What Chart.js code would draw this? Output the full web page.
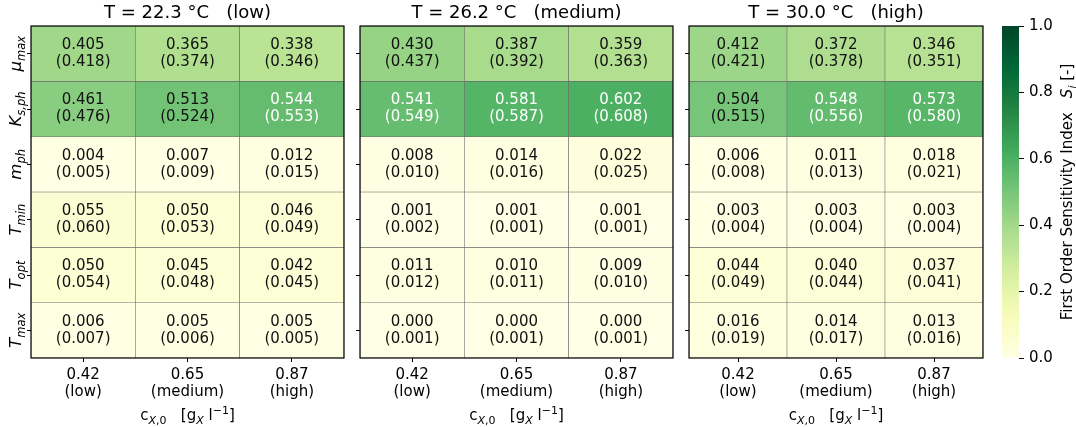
<!DOCTYPE html>
<html>
<head>
<meta charset="utf-8">
<script src="https://cdn.jsdelivr.net/npm/chart.js@4.4.1/dist/chart.umd.min.js"></script>
<style>
  html, body { margin: 0; padding: 0; background: #fff; }
  #wrap { position: relative; width: 1076px; height: 427px; overflow: hidden; }
  canvas { position: absolute; top: 0; }
</style>
</head>
<body>
<div id="wrap">
  <canvas id="p0"></canvas>
  <canvas id="p1"></canvas>
  <canvas id="p2"></canvas>
  <canvas id="cbar"></canvas>
</div>
<script>
// --- data ---
const temperatures = ["22.3", "26.2", "30.0"];
const tempLevels = ["low", "medium", "high"];
const concentrations = ["0.42", "0.65", "0.87"];
const concLevels = ["low", "medium", "high"];
const paramSymbols = ["μ", "K", "m", "T", "T", "T"];
const paramSubs = ["max", "s,ph", "ph", "min", "opt", "max"];
const colorbarTicks = [0, 0.2, 0.4, 0.6, 0.8, 1.0];

// first order index (colour) per temperature, rows = parameters, cols = concentrations
const siLow = [
  [0.405, 0.365, 0.338], [0.461, 0.513, 0.544], [0.004, 0.007, 0.012],
  [0.055, 0.050, 0.046], [0.050, 0.045, 0.042], [0.006, 0.005, 0.005]
];
const siMedium = [
  [0.430, 0.387, 0.359], [0.541, 0.581, 0.602], [0.008, 0.014, 0.022],
  [0.001, 0.001, 0.001], [0.011, 0.010, 0.009], [0.000, 0.000, 0.000]
];
const siHigh = [
  [0.412, 0.372, 0.346], [0.504, 0.548, 0.573], [0.006, 0.011, 0.018],
  [0.003, 0.003, 0.003], [0.044, 0.040, 0.037], [0.016, 0.014, 0.013]
];
// values in brackets
const stLow = [
  [0.418, 0.374, 0.346], [0.476, 0.524, 0.553], [0.005, 0.009, 0.015],
  [0.060, 0.053, 0.049], [0.054, 0.048, 0.045], [0.007, 0.006, 0.005]
];
const stMedium = [
  [0.437, 0.392, 0.363], [0.549, 0.587, 0.608], [0.010, 0.016, 0.025],
  [0.002, 0.001, 0.001], [0.012, 0.011, 0.010], [0.001, 0.001, 0.001]
];
const stHigh = [
  [0.421, 0.378, 0.351], [0.515, 0.556, 0.580], [0.008, 0.013, 0.021],
  [0.004, 0.004, 0.004], [0.049, 0.044, 0.041], [0.019, 0.017, 0.016]
];

const siAll = [siLow, siMedium, siHigh];
const stAll = [stLow, stMedium, stHigh];

// --- colour map (YlGn) ---
const ylgn = ["#ffffe5", "#f7fcb9", "#d9f0a3", "#addd8e", "#78c679",
              "#41ab5d", "#238443", "#006837", "#004529"];
function hexRgb(h) { return [1, 3, 5].map(i => parseInt(h.substr(i, 2), 16)); }
function colorFor(v) {
  const t = Math.min(Math.max(v, 0), 1) * (ylgn.length - 1);
  const i = Math.min(Math.floor(t), ylgn.length - 2);
  const f = t - i;
  const a = hexRgb(ylgn[i]), b = hexRgb(ylgn[i + 1]);
  return "rgb(" + a.map((c, k) => Math.round(c + (b[k] - c) * f)).join(",") + ")";
}

const FONT = '"DejaVu Sans", sans-serif';
const H = 427, TOP = 26, BOTTOM = 358, YW = 31;
const boxes = [{ left: 31, right: 344 }, { left: 360, right: 673 }, { left: 689, right: 983 }];

// draws a run of text pieces (with sub/superscripts) centred on cx
function drawRich(ctx, pieces, cx, baseline) {
  let w = 0;
  pieces.forEach(p => { ctx.font = p.font; p.w = ctx.measureText(p.t).width; w += p.w; });
  let x = cx - w / 2;
  ctx.textAlign = "left";
  ctx.textBaseline = "alphabetic";
  pieces.forEach(p => {
    ctx.font = p.font;
    ctx.fillText(p.t, x, baseline + (p.dy || 0));
    x += p.w;
  });
}

function crearPanel(idx) {
  const box = boxes[idx];
  const canvas = document.getElementById("p" + idx);
  const cw = box.right - box.left + YW + 6;
  canvas.width = cw;
  canvas.height = H;
  canvas.style.left = (box.left - YW) + "px";
  canvas.style.width = cw + "px";
  canvas.style.height = H + "px";

  const si = siAll[idx], st = stAll[idx];

  const textos = {
    id: "textos",
    afterDatasetsDraw(chart) {
      const { ctx, chartArea: a, scales: { x, y } } = chart;
      ctx.save();
      // cell annotations
      ctx.font = "15px " + FONT;
      ctx.textAlign = "center";
      ctx.textBaseline = "middle";
      si.forEach((row, r) => row.forEach((v, c) => {
        const px = x.getPixelForValue(c), py = y.getPixelForValue(r + 0.5);
        ctx.fillStyle = v > 0.53 ? "#ffffff" : "#111111";
        ctx.fillText(v.toFixed(3), px, py - 8.5);
        ctx.fillText("(" + st[r][c].toFixed(3) + ")", px, py + 8.5);
      }));
      // frame
      ctx.strokeStyle = "#000";
      ctx.lineWidth = 1.2;
      ctx.strokeRect(a.left, a.top, a.right - a.left, a.bottom - a.top);
      // title
      ctx.fillStyle = "#000";
      ctx.font = "18px " + FONT;
      ctx.textAlign = "center";
      ctx.textBaseline = "alphabetic";
      ctx.fillText("T = " + temperatures[idx] + " °C   (" + tempLevels[idx] + ")",
                   (a.left + a.right) / 2, 17.5);
      // x title
      const m = "15px " + FONT, s = "11px " + FONT, si2 = "italic 11px " + FONT;
      drawRich(ctx, [
        { t: "c", font: m }, { t: "X", font: si2, dy: 3.5 }, { t: ",0", font: s, dy: 3.5 },
        { t: "   [g", font: m }, { t: "X", font: si2, dy: 3.5 }, { t: " l", font: m },
        { t: "−1", font: s, dy: -6 }, { t: "]", font: m }
      ], (a.left + a.right) / 2, 420);
      // y tick labels (first panel only)
      if (idx === 0) {
        paramSymbols.forEach((sym, r) => {
          const py = y.getPixelForValue(r + 0.5);
          ctx.save();
          ctx.translate(21, py);
          ctx.rotate(-Math.PI / 2);
          drawRich(ctx, [
            { t: sym, font: "italic 16.5px " + FONT },
            { t: paramSubs[r], font: "italic 11.5px " + FONT, dy: 4 }
          ], 0, 0);
          ctx.restore();
        });
      }
      ctx.restore();
    }
  };

  return new Chart(canvas.getContext("2d"), {
    type: "bar",
    data: {
      labels: concentrations.map((c, k) => [c, "(" + concLevels[k] + ")"]),
      datasets: paramSymbols.map((p, r) => ({
        data: concentrations.map(() => [r, r + 1]),
        backgroundColor: si[r].map(colorFor),
        borderColor: "#6e6e6e",
        borderWidth: 0.6,
        borderSkipped: false,
        categoryPercentage: 1,
        barPercentage: 1,
        grouped: false
      }))
    },
    options: {
      responsive: false,
      animation: false,
      events: [],
      layout: { padding: { left: 0, right: 6, top: TOP, bottom: 0 } },
      plugins: { legend: { display: false }, tooltip: { enabled: false }, title: { display: false } },
      scales: {
        x: {
          type: "category",
          offset: true,
          grid: { offset: false, drawOnChartArea: false, tickLength: 4, color: "#000" },
          border: { display: false },
          ticks: { font: { family: FONT, size: 15, lineHeight: 1.1 }, color: "#000", padding: 5, maxRotation: 0 },
          afterFit: s => { s.height = H - BOTTOM; }
        },
        y: {
          type: "linear",
          min: 0,
          max: 6,
          reverse: true,
          afterBuildTicks: s => { s.ticks = paramSymbols.map((p, k) => ({ value: k + 0.5 })); },
          grid: { drawOnChartArea: false, tickLength: 4, color: "#000" },
          border: { display: false },
          ticks: { display: false },
          afterFit: s => { s.width = YW; }
        }
      }
    },
    plugins: [textos]
  });
}

[0, 1, 2].forEach(crearPanel);

// --- colour bar ---
(function crearBarra() {
  const canvas = document.getElementById("cbar");
  const cw = 86, left = 990;
  canvas.width = cw;
  canvas.height = H;
  canvas.style.left = left + "px";
  canvas.style.width = cw + "px";
  canvas.style.height = H + "px";

  const etiqueta = {
    id: "etiqueta",
    afterDraw(chart) {
      const { ctx, chartArea: a } = chart;
      ctx.save();
      ctx.fillStyle = "#000";
      ctx.translate(82, (a.top + a.bottom) / 2);
      ctx.rotate(-Math.PI / 2);
      drawRich(ctx, [
        { t: "First Order Sensitivity Index   ", font: "15px " + FONT },
        { t: "S", font: "italic 15px " + FONT },
        { t: "i", font: "italic 11px " + FONT, dy: 3.5 },
        { t: " [-]", font: "15px " + FONT }
      ], 0, 0);
      ctx.restore();
    }
  };

  new Chart(canvas.getContext("2d"), {
    type: "bar",
    data: {
      labels: [""],
      datasets: [{
        data: [[0, 1]],
        backgroundColor: c => {
          const ch = c.chart;
          if (!ch.chartArea) return ylgn[0];
          const ys = ch.scales.y;
          const g = ch.ctx.createLinearGradient(0, ys.getPixelForValue(0), 0, ys.getPixelForValue(1));
          ylgn.forEach((col, k) => g.addColorStop(k / (ylgn.length - 1), col));
          return g;
        },
        borderWidth: 0,
        categoryPercentage: 1,
        barPercentage: 1
      }]
    },
    options: {
      responsive: false,
      animation: false,
      events: [],
      layout: { padding: { left: 12, right: 0, top: TOP, bottom: H - BOTTOM } },
      plugins: { legend: { display: false }, tooltip: { enabled: false } },
      scales: {
        x: { display: false },
        y: {
          position: "right",
          min: 0,
          max: 1,
          afterBuildTicks: s => { s.ticks = colorbarTicks.map(v => ({ value: v })); },
          grid: { drawOnChartArea: false, tickLength: 5, color: "#000" },
          border: { display: false },
          ticks: { callback: v => v.toFixed(1), font: { family: FONT, size: 15 }, color: "#000", padding: 5 },
          afterFit: s => { s.width = cw - 12 - 17; }
        }
      }
    },
    plugins: [etiqueta]
  });
})();
</script>
</body>
</html>
